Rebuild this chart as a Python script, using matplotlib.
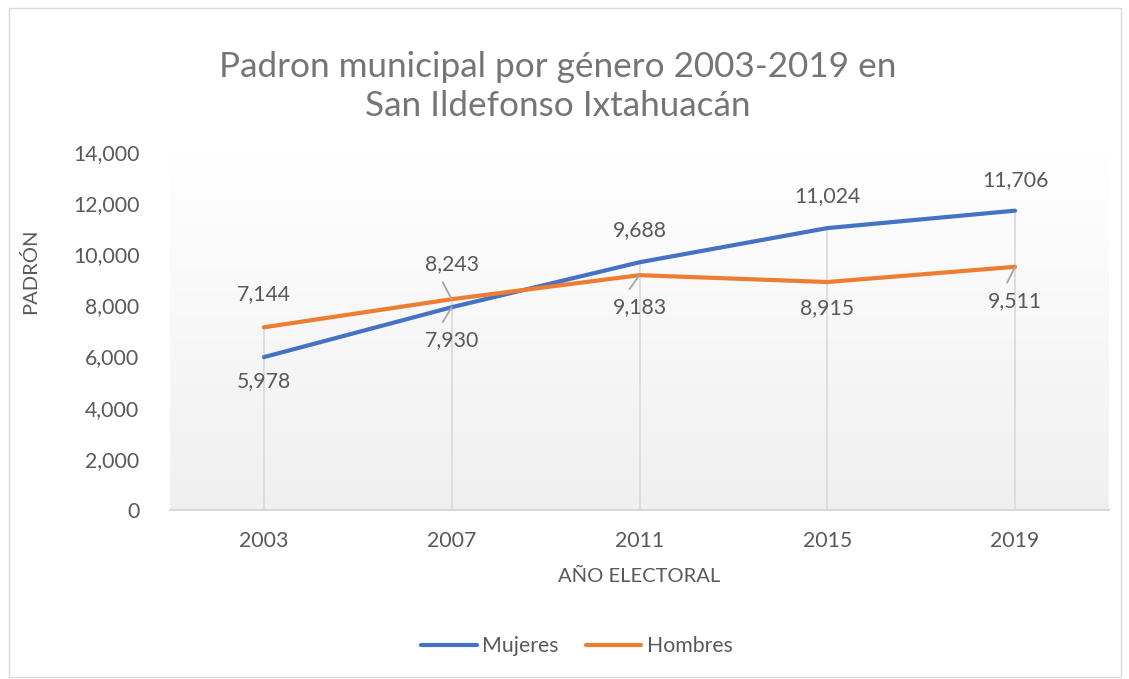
import numpy as np
import matplotlib.pyplot as plt
from matplotlib.patches import Rectangle

plt.rcParams['font.family'] = ['Lato', 'DejaVu Sans']

years = ['2003', '2007', '2011', '2015', '2019']
mujeres = [5978, 7930, 9688, 11024, 11706]
hombres = [7144, 8243, 9183, 8915, 9511]

# label offsets in pixels (above/below the point)
muj_off = [-24, -33, 32, 32, 31]
hom_off = [33, 35, -32, -26, -34]
# leader line start offsets (pixels), None = no leader
muj_lead = [None, (-9, -15), None, None, None]
hom_lead = [None, (-9, 17), (-10, -14), None, (-8, -16)]

txt = '#595959'
blue = '#4472C4'
orange = '#ED7D31'

fig = plt.figure(figsize=(11.29, 6.79), dpi=100)
ax = fig.add_axes([170/1129, 169/679, 939/1129, 358/679])

x = np.arange(len(years))

# gradient background
grad = np.linspace(1.0, 0.0, 256).reshape(-1, 1, 1)
top = np.array([1.0, 1.0, 1.0])
bot = np.array([0.94, 0.94, 0.94])
cols = top * grad + bot * (1 - grad)
ax.imshow(cols, extent=[-0.5, 4.5, 0, 14000], aspect='auto', zorder=0, origin='upper')

# drop lines
for i in x:
    ax.plot([i, i], [0, max(mujeres[i], hombres[i])], color='#d9d9d9', lw=1.2, zorder=1)

ax.plot(x, mujeres, color=blue, lw=3, solid_capstyle='round', label='Mujeres', zorder=3)
ax.plot(x, hombres, color=orange, lw=3, solid_capstyle='round', label='Hombres', zorder=3)

for vals, offs, leads in [(mujeres, muj_off, muj_lead), (hombres, hom_off, hom_lead)]:
    for i, v in enumerate(vals):
        ax.annotate(f'{v:,}', (i, v), xytext=(0, offs[i]), textcoords='offset pixels',
                    ha='center', va='center', fontsize=15.3, color=txt, zorder=4)
        if leads[i] is not None:
            ax.annotate('', (i, v), xytext=leads[i], textcoords='offset pixels',
                        arrowprops=dict(arrowstyle='-', color='#a6a6a6', lw=1.3,
                                        shrinkA=0, shrinkB=0), zorder=4)

ax.set_xlim(-0.5, 4.5)
ax.set_ylim(0, 14000)
ax.set_yticks(np.arange(0, 14001, 2000))
ax.set_yticklabels([f'{t:,}' for t in range(0, 14001, 2000)])
ax.set_xticks(x)
ax.set_xticklabels(years)
ax.tick_params(length=0, labelsize=15.3, labelcolor=txt)
ax.tick_params(axis='x', pad=15)
ax.tick_params(axis='y', pad=22)
for s in ['top', 'right', 'left']:
    ax.spines[s].set_visible(False)
ax.spines['bottom'].set_color('#d9d9d9')
ax.spines['bottom'].set_linewidth(1.5)

ax.set_xlabel('AÑO ELECTORAL', fontsize=14.5, color=txt, labelpad=12)
ax.set_ylabel('PADRÓN', fontsize=14.5, color=txt)
ax.yaxis.set_label_coords(-0.139, 0.668)

fig.text(0.4940, 0.873, 'Padron municipal por género 2003-2019 en\nSan Ildefonso Ixtahuacán',
         ha='center', va='center', fontsize=25.3, color='#757575', linespacing=1.28)

fig.legend(loc='center', bbox_to_anchor=(577/1129, 1 - 646/679), ncol=2, frameon=False,
           fontsize=15.3, labelcolor=txt, handlelength=2.6, handletextpad=0.25,
           columnspacing=1.3)

fig.patches.append(Rectangle((9/1129, 2/679), 1112/1129, 669/679, transform=fig.transFigure,
                             fill=False, edgecolor='#d9d9d9', lw=1))

fig.savefig('out.png', dpi=100)
